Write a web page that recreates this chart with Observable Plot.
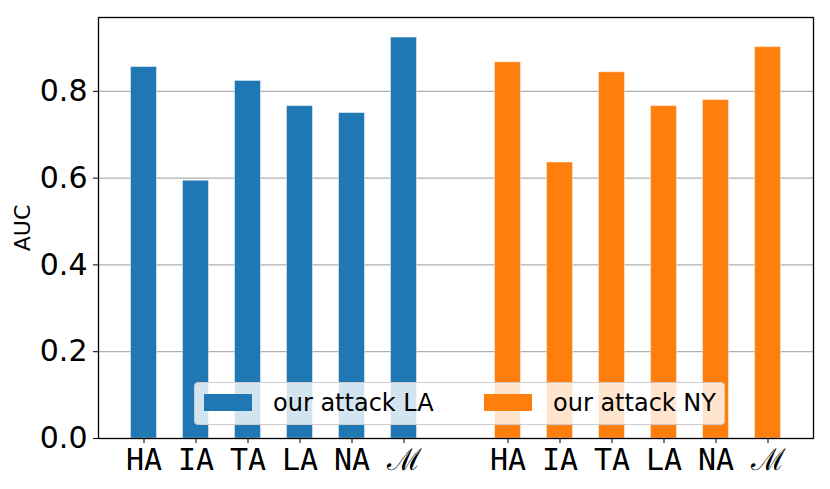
<!DOCTYPE html>
<html><head><meta charset="utf-8">
<script src="https://cdn.jsdelivr.net/npm/d3@7"></script>
<script src="https://cdn.jsdelivr.net/npm/@observablehq/plot@0.6"></script>
<style>
body{margin:0;background:#fff;}
#wrap{position:relative;width:830px;height:489px;overflow:hidden;}
#legend{position:absolute;left:194px;top:382px;width:531px;height:43px;box-sizing:border-box;
  background:rgba(255,255,255,0.8);border:1px solid #cccccc;border-radius:4px;
  font-family:"DejaVu Sans",sans-serif;font-size:24px;color:#000;}
#legend .patch{position:absolute;top:11px;width:48px;height:17px;}
#legend .lab{position:absolute;top:6px;line-height:28px;white-space:nowrap;}
</style></head><body><div id="wrap"></div>
<script>
const categories = ["HA", "IA", "TA", "LA", "NA", "ℳ"];
const seriesNames = ["our attack LA", "our attack NY"];
const seriesColors = ["#1f77b4", "#ff7f0e"];
const laValues = [0.856, 0.594, 0.824, 0.766, 0.750, 0.924];
const nyValues = [0.867, 0.636, 0.844, 0.766, 0.780, 0.902];
const yTicks = [0, 0.2, 0.4, 0.6, 0.8];

const allValues = [laValues, nyValues];
const rows = [];
allValues.forEach((vals, s) => vals.forEach((v, i) => rows.push({
  series: seriesNames[s], color: seriesColors[s], cat: categories[i], pos: i + s * (categories.length + 1), value: v
})));
const positions = rows.map(d => d.pos);
const labelAt = new Map(rows.map(d => [d.pos, d.cat]));
const ymax = d3.max(rows, d => d.value) * 1.05;
const xmin = d3.min(positions) - 0.25, xmax = d3.max(positions) + 0.25;
const xpad = (xmax - xmin) * 0.05;

const chart = Plot.plot({
  width: 830, height: 489,
  marginLeft: 98, marginRight: 17, marginTop: 17, marginBottom: 51,
  style: {fontFamily: "DejaVu Sans", background: "#fff", color: "#000"},
  x: {type: "linear", domain: [xmin - xpad, xmax + xpad], axis: null},
  y: {domain: [0, ymax], axis: null},
  marks: [
    Plot.gridY(yTicks, {stroke: "#b0b0b0", strokeOpacity: 1, strokeWidth: 1.2}),
    Plot.rectY(rows, {x1: d => d.pos - 0.25, x2: d => d.pos + 0.25, y1: 0, y2: "value",
      fill: d => d.color, stroke: "#ffffff", strokeOpacity: 0.45, strokeWidth: 1}),
    Plot.axisY({ticks: yTicks, tickFormat: d3.format(".1f"), tickSize: 5, tickPadding: 6,
      label: null, stroke: "#000"}),
    Plot.axisY({ticks: [], label: "AUC", labelAnchor: "center", labelArrow: "none",
      labelOffset: 84}),
    Plot.axisX({ticks: positions, tickFormat: p => labelAt.get(p), tickSize: 5, tickPadding: 5,
      fontFamily: "DejaVu Sans Mono", label: null, stroke: "#000"}),
    Plot.frame({stroke: "#000", strokeWidth: 1.3})
  ]
});
const svg = d3.select(chart);
svg.selectAll('[aria-label="y-axis tick label"]').attr("font-size", 30).selectAll("text").attr("font-size", 30);
svg.selectAll('[aria-label="x-axis tick label"]').attr("font-size", 30).selectAll("text").attr("font-size", 30);
svg.selectAll('[aria-label="y-axis label"]').attr("font-size", 22).selectAll("text").attr("font-size", 22);
const wrap = document.getElementById("wrap");
wrap.appendChild(chart);

const legend = document.createElement("div");
legend.id = "legend";
const items = [{patch: 9, text: 78}, {patch: 289, text: 358}];
seriesNames.forEach((name, i) => {
  const p = document.createElement("div");
  p.className = "patch"; p.style.left = items[i].patch + "px"; p.style.background = seriesColors[i];
  const t = document.createElement("div");
  t.className = "lab"; t.style.left = items[i].text + "px"; t.textContent = name;
  legend.appendChild(p); legend.appendChild(t);
});
wrap.appendChild(legend);
</script></body></html>
